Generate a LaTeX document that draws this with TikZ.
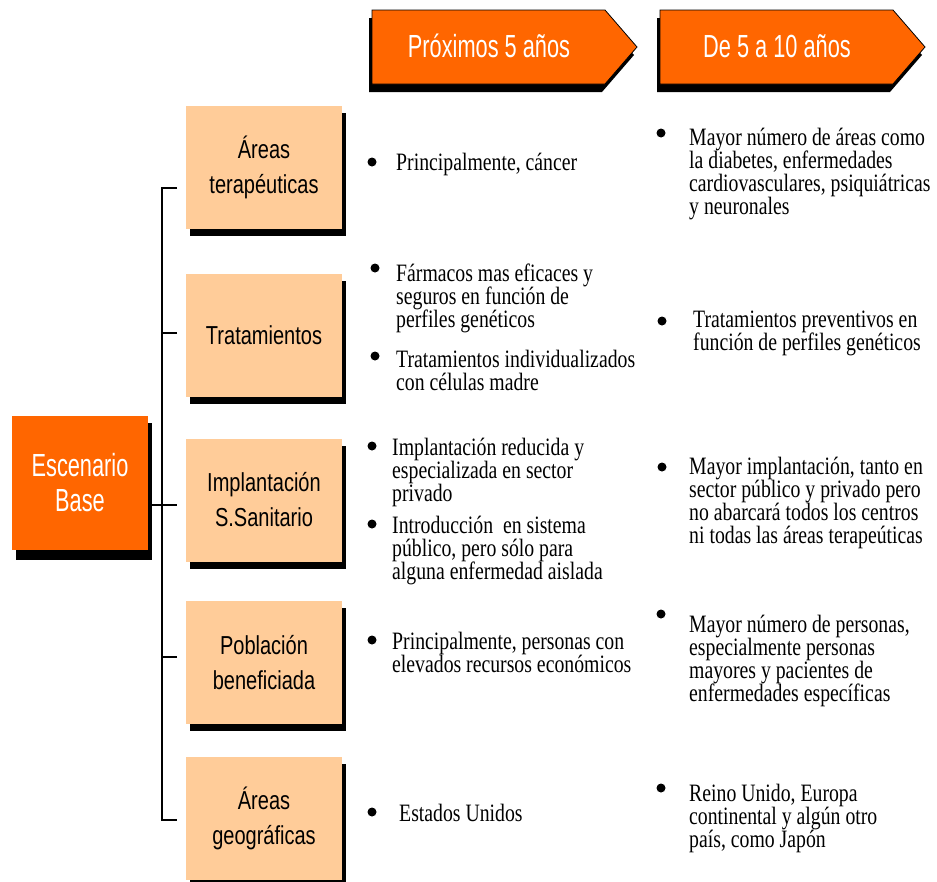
\documentclass[tikz,border=0pt]{standalone}
\usepackage{fontspec}
\setmainfont{Liberation Serif}[FakeStretch=0.79]
\newfontfamily\cajafont{Liberation Sans}[FakeStretch=0.77]
\newfontfamily\titfont{Liberation Sans}[FakeStretch=0.68]
\usetikzlibrary{shadows}

\definecolor{naranja}{HTML}{FF6600}
\definecolor{salmon}{HTML}{FFCC99}

\tikzset{
  caja/.style={rectangle,fill=salmon,minimum width=156pt,minimum height=123pt,inner sep=0pt,
    align=center,font=\cajafont\fontsize{26}{35}\selectfont,
    general shadow={fill=black,shadow xshift=4pt,shadow yshift=-7pt}},
  punto/.style={circle,fill=black,minimum size=9pt,inner sep=0pt},
  texto/.style={anchor=base west,align=left,inner sep=0pt,font=\fontsize{25}{23}\selectfont},
  titulo/.style={text=white,inner sep=0pt,font=\titfont\fontsize{32}{35}\selectfont},
  linea/.style={line width=2.8pt,black},
}

\begin{document}
\begin{tikzpicture}[x=1pt,y=-1pt]
    \useasboundingbox (0,0) rectangle (937,881);

    % Cabeceras (flechas)
    \fill[black] (369,18) -- (602,18) -- (634,55) -- (602,92) -- (369,92) -- cycle;
    \filldraw[fill=naranja,draw=black,line width=0.8pt] (372,10) -- (605,10) -- (637,47) -- (605,84) -- (372,84) -- cycle;
    \node[titulo] (h1) at (489,46) {Próximos 5 años};

    \fill[black] (657,18) -- (890,18) -- (922,55) -- (890,92) -- (657,92) -- cycle;
    \filldraw[fill=naranja,draw=black,line width=0.8pt] (660,10) -- (893,10) -- (925,47) -- (893,84) -- (660,84) -- cycle;
    \node[titulo] (h2) at (777,46) {De 5 a 10 años};

    % Escenario
    \node[caja,fill=naranja,text=white,minimum width=136pt,minimum height=134pt,
      font=\titfont\fontsize{32}{35}\selectfont,
      general shadow={fill=black,shadow xshift=4pt,shadow yshift=-10pt}] (esc) at (80,483) {Escenario\\Base};

    % Cajas
    \node[caja] (b1) at (264,167.5) {Áreas\\terapéuticas};
    \node[caja] (b2) at (264,335.5) {Tratamientos};
    \node[caja] (b3) at (264,500) {Implantación\\S.Sanitario};
    \node[caja] (b4) at (264,662.5) {Población\\beneficiada};
    \node[caja] (b5) at (264,818.5) {Áreas\\geográficas};

    % Llave
    \coordinate (t1) at (177,188);
    \coordinate (t2) at (177,333);
    \coordinate (t3) at (177,505);
    \coordinate (t4) at (177,657);
    \coordinate (t5) at (177,820);
    \draw[linea] (t1) -- ++(-15,0) -- ++(0,632) -- (t5);
    \draw[linea] (t2) -- ++(-15,0);
    \draw[linea] (t4) -- ++(-15,0);
    \draw[linea] (esc.east |- t3) -- (t3);

    % Próximos 5 años (base = última línea)
    \node[punto] (p1) at (372,162) {};
    \node[texto] (a1) at (396,170) {Principalmente, cáncer};
    \node[punto] (p2) at (375,268) {};
    \node[texto] (a2) at (396,327) {Fármacos mas eficaces y\\seguros en función de\\perfiles genéticos};
    \node[punto] (p3) at (375,356) {};
    \node[texto] (a3) at (396,390) {Tratamientos individualizados\\con células madre};
    \node[punto] (p4) at (372,446) {};
    \node[texto] (a4) at (392,501) {Implantación reducida y\\especializada en sector\\privado};
    \node[punto] (p5) at (372,524) {};
    \node[texto] (a5) at (392,579) {Introducción \ en sistema\\público, pero sólo para\\alguna enfermedad aislada};
    \node[punto] (p6) at (372,640) {};
    \node[texto] (a6) at (392,672) {Principalmente, personas con\\elevados recursos económicos};
    \node[punto] (p7) at (372,812) {};
    \node[texto] (a7) at (399,821) {Estados Unidos};

    % De 5 a 10 años
    \node[punto] (q1) at (661,133) {};
    \node[texto] (c1) at (689,214) {Mayor número de áreas como\\la diabetes, enfermedades\\cardiovasculares, psiquiátricas\\y neuronales};
    \node[punto] (q2) at (662,321) {};
    \node[texto] (c2) at (693,350) {Tratamientos preventivos en\\función de perfiles genéticos};
    \node[punto] (q3) at (662,467) {};
    \node[texto] (c3) at (689,543) {Mayor implantación, tanto en\\sector público y privado pero\\no abarcará todos los centros\\ni todas las áreas terapeúticas};
    \node[punto] (q4) at (661,614) {};
    \node[texto] (c4) at (689,701) {Mayor número de personas,\\especialmente personas\\mayores y pacientes de\\enfermedades específicas};
    \node[punto] (q5) at (661,788) {};
    \node[texto] (c5) at (689,847) {Reino Unido, Europa\\continental y algún otro\\país, como Japón};
\end{tikzpicture}
\end{document}
